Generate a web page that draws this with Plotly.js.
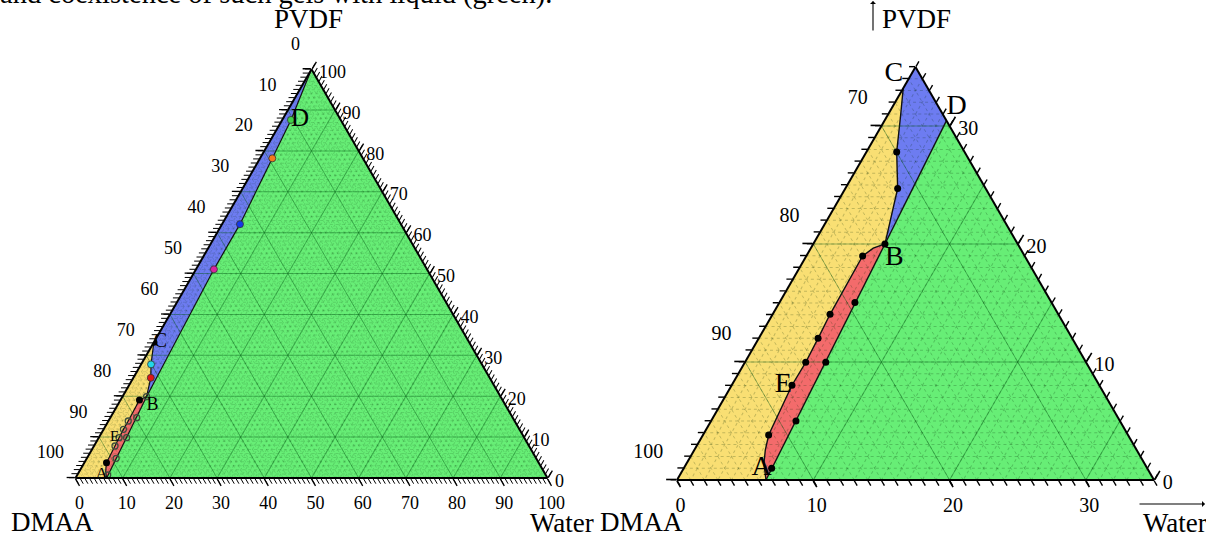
<!DOCTYPE html>
<html>
<head>
<meta charset="utf-8">
<script src="https://cdn.plot.ly/plotly-3.0.1.min.js"></script>
<style>html,body{margin:0;padding:0;background:#fff;}#chart{width:1206px;height:541px;}</style>
</head>
<body>
<div id="chart"></div>
<script>
// ===== DATA: compositions in %, given as PVDF and Water (DMAA = 100 - PVDF - Water) =====
// ---- Left panel: full phase diagram ----
const L_cbPVDF   = [33.2, 27.8, 24.5, 19.9];            // boundary C -> B
const L_cbWater  = [0.0, 2.1, 3.7, 5.1];
const L_bdPVDF   = [19.9, 51.05, 62.1, 78.2, 87.6, 100]; // boundary B -> D -> PVDF corner
const L_bdWater  = [5.1, 3.8, 3.8, 2.6, 1.85, 0];
const L_redPVDF  = [0, 1.4, 2.5, 3.74, 7.83, 9.86, 11.9, 13.94, 19.1, 19.9]; // boundary A -> E -> B
const L_redWater = [6.6, 5.7, 5.2, 4.7, 4.45, 4.3, 4.2, 4.2, 4.0, 5.1];
const L_solidPVDF  = [33.2, 19.1, 3.74];
const L_solidWater = [0.0, 4.0, 4.7];
const L_openPVDF   = [19.9, 14.75, 13.94, 11.9, 9.86, 9.86, 7.83, 4.82, 0.73];
const L_openWater  = [5.1, 5.6, 4.2, 4.2, 4.3, 5.9, 4.45, 6.2, 6.45];
const L_colorPVDF  = [87.6, 78.2, 62.1, 51.05, 27.8, 24.5];
const L_colorWater = [1.85, 2.6, 3.8, 3.8, 2.1, 3.7];
const L_labels     = ['A', 'B', 'C', 'D', 'E'];
const L_labelPVDF  = [0.73, 19.9, 33.2, 87.6, 9.86];
const L_labelWater = [6.45, 5.1, 0.0, 1.85, 4.3];

// ---- Right panel: enlarged corner (DMAA >= 65) ----
const R_cbPVDF   = [33.2, 30.8, 27.8, 24.7, 20.0];
const R_cbWater  = [0.0, 1.0, 2.22, 3.84, 5.26];
const R_bdPVDF   = [20.0, 30.45];
const R_bdWater  = [5.26, 4.55];
const R_redPVDF  = [0, 1.42, 2.54, 3.81, 8.03, 9.97, 12.0, 14.04, 18.98, 19.64, 20.0];
const R_redWater = [6.53, 5.67, 5.21, 4.82, 4.42, 4.46, 4.35, 4.21, 4.13, 4.58, 5.26];
const R_dotPVDF  = [27.8, 24.7, 20.0, 18.98, 15.03, 14.04, 12.0, 9.97, 9.97, 8.03, 5.0, 3.81, 0.99];
const R_dotWater = [2.22, 3.84, 5.26, 4.13, 5.54, 4.21, 4.35, 4.46, 5.93, 4.42, 6.23, 4.82, 6.45];
const R_labels     = ['A', 'B', 'C', 'D', 'E'];
const R_labelPVDF  = [0.99, 20.0, 33.2, 30.45, 8.03];
const R_labelWater = [6.45, 5.26, 0.0, 4.55, 4.42];

// ---- tick labels ----
const L_aTickVals = [0,10,20,30,40,50,60,70,80,90,100];
const L_aTickText = ['100','90','80','70','60','50','40','30','20','10','0'];   // DMAA on left edge
const L_bTickVals = [0,10,20,30,40,50,60,70,80,90,100];
const L_bTickText = ['100','90','80','70','60','50','40','30','20','10','0'];   // Water on bottom
const L_cTickVals = [0,10,20,30,40,50,60,70,80,90,100];
const L_cTickText = ['100','90','80','70','60','50','40','30','20','10','0'];   // PVDF on right edge
const R_aTickVals = [0,10,20,30];
const R_aTickText = ['100','90','80','70'];
const R_bTickVals = [100,90,80,70];
const R_bTickText = ['0','10','20','30'];
const R_cTickVals = [35,25,15,5];
const R_cTickText = ['0','10','20','30'];

const TITLE_TOP = 'and coexistence of such gels with liquid (green).';

// ===== BUILD =====
const W = 1206, H = 541;
const FONT = 'Liberation Serif, Times New Roman, serif';
const rev = arr => arr.slice().reverse();
const comp = (pv, wa) => ({a: pv, b: pv.map((p, i) => 100 - p - wa[i]), c: wa});
const range = (lo, hi) => { const r = []; for (let v = lo; v <= hi; v++) r.push(v); return r; };

function domain(x0, x1, yBot) {
  const side = x1 - x0, h = side * Math.sqrt(3) / 2;
  return {x: [x0 / W, x1 / W], y: [1 - yBot / H, 1 - (yBot - h) / H]};
}

const COL = {green: '#67ee76', yellow: '#f9df73', blue: '#6d7cf1', red: '#f36b6b'};

function panel(p) {
  const traces = [];
  const ids = p.ids;
  const fill = (pv, wa, color) => Object.assign(comp(pv, wa), {
    type: 'scatterternary', mode: 'lines', fill: 'toself', fillcolor: color,
    line: {width: 0, color: color}, subplot: ids[0], hoverinfo: 'skip'
  });
  traces.push(fill([0, ...p.cbP, ...rev(p.redP)], [0, ...p.cbW, ...rev(p.redW)], COL.yellow));
  const topP = p.top, brW = p.br;
  let blueP, blueW;
  if (p.bdP[p.bdP.length - 1] === topP) {
    blueP = [...rev(p.cbP), ...rev(p.bdP)]; blueW = [...rev(p.cbW), ...rev(p.bdW)];
  } else {
    blueP = [...rev(p.cbP), topP, ...rev(p.bdP)]; blueW = [...rev(p.cbW), 0, ...rev(p.bdW)];
  }
  const greenP = [p.redP[0], 0, ...rev(p.bdP)], greenW = [p.redW[0], brW, ...rev(p.bdW)];
  traces.push(fill(blueP, blueW, COL.blue));
  traces.push(fill(greenP, greenW, COL.green));
  traces.push(fill(p.redP, p.redW, COL.red));

  const line = (pv, wa) => Object.assign(comp(pv, wa), {
    type: 'scatterternary', mode: 'lines', line: {color: '#111', width: p.lw},
    subplot: ids[1], hoverinfo: 'skip'
  });
  traces.push(line(p.cbP, p.cbW));
  traces.push(line(p.bdP, p.bdW));
  traces.push(line(p.redP, p.redW));
  traces.push(line([p.redP[0], p.redP[p.redP.length - 1]], [p.redW[0], p.redW[p.redW.length - 1]]));

  p.markers.forEach(m => traces.push(Object.assign(comp(m.P, m.W), {
    type: 'scatterternary', mode: 'markers', subplot: ids[2], hoverinfo: 'skip',
    marker: m.marker
  })));

  traces.push(Object.assign(comp(p.labP, p.labW), {
    type: 'scatterternary', mode: 'text', text: p.labels, subplot: ids[3],
    textposition: p.labPos, hoverinfo: 'skip', cliponaxis: false,
    textfont: {family: FONT, size: p.labSize, color: '#000'}
  }));
  return traces;
}

// label formatting per edge: left-edge labels sit above their tick, right-edge labels level with it
const fmt = {
  a: s => s + '<br>&nbsp;<br>&nbsp;',
  b: s => s,
  c: s => '&nbsp;<br>' + s
};

function axisSet(kind, cfg, key) {
  const none = {showgrid: false, showline: false, ticks: '', showticklabels: false,
                title: {text: ''}};
  if (kind === 0) return Object.assign({}, none, {min: cfg.min[key]});
  if (kind === 1) return Object.assign({}, none, {
    min: cfg.min[key], showgrid: true, gridcolor: cfg.fineColor, gridwidth: 1, griddash: 'dot',
    tickmode: 'array', tickvals: cfg.fine[key], ticks: 'outside', ticklen: cfg.minorLen,
    tickwidth: cfg.minorW, tickcolor: '#000'
  });
  if (kind === 2) return Object.assign({}, none, {
    min: cfg.min[key], showgrid: true, gridcolor: 'rgba(0,90,20,0.4)', gridwidth: 1,
    tickmode: 'array', tickvals: cfg.grid[key]
  });
  return Object.assign({}, none, {
    min: cfg.min[key], tickmode: 'array', tickvals: cfg.tv[key], ticktext: cfg.tt[key].map(fmt[key]),
    ticks: 'outside', ticklen: cfg.majorLen[key], tickwidth: cfg.majorW, tickcolor: '#000',
    showticklabels: true, tickfont: {family: FONT, size: cfg.tickSize, color: '#000'},
    showline: true, linewidth: 2, linecolor: '#000'
  });
}

function ternaries(cfg, ids, dom) {
  const out = {};
  ids.forEach((id, k) => {
    out[id] = {
      sum: 100, domain: dom, bgcolor: k === 0 ? '#fff' : 'rgba(0,0,0,0)',
      aaxis: axisSet(k, cfg, 'a'), baxis: axisSet(k, cfg, 'b'), caxis: axisSet(k, cfg, 'c')
    };
  });
  return out;
}

const leftIds = ['ternary', 'ternary2', 'ternary3', 'ternary4'];
const rightIds = ['ternary5', 'ternary6', 'ternary7', 'ternary8'];

const leftTraces = panel({
  ids: leftIds, top: 100, br: 100, lw: 1.2,
  cbP: L_cbPVDF, cbW: L_cbWater, bdP: L_bdPVDF, bdW: L_bdWater, redP: L_redPVDF, redW: L_redWater,
  markers: [
    {P: L_openPVDF, W: L_openWater, marker: {size: 6, color: 'rgba(0,0,0,0)', line: {color: '#3d4d3d', width: 1.3}}},
    {P: L_solidPVDF, W: L_solidWater, marker: {size: 7, color: '#000', line: {color: '#000', width: 0}}},
    {P: L_colorPVDF, W: L_colorWater, marker: {size: 7,
      color: ['#3fd04a', '#f27a1c', '#1538e8', '#d8239f', '#22d7e8', '#e01515'],
      line: {color: '#333', width: 0.8}}}
  ],
  labels: L_labels, labP: L_labelPVDF, labW: L_labelWater,
  labPos: ['middle left', 'bottom right', 'middle right', 'middle right', 'middle left'],
  labSize: [17, 18, 20, 25, 15]
});

const rightTraces = panel({
  ids: rightIds, top: 35, br: 35, lw: 1.4,
  cbP: R_cbPVDF, cbW: R_cbWater, bdP: R_bdPVDF, bdW: R_bdWater, redP: R_redPVDF, redW: R_redWater,
  markers: [
    {P: R_dotPVDF, W: R_dotWater, marker: {size: 7, color: '#000', line: {width: 0}}}
  ],
  labels: R_labels, labP: R_labelPVDF, labW: R_labelWater,
  labPos: ['middle left', 'bottom right', 'top left', 'top right', 'middle left'],
  labSize: 28
});

const leftCfg = {
  min: {a: 0, b: 0, c: 0},
  fine: {a: range(0, 100), b: range(0, 100), c: range(0, 100)},
  grid: {a: range(1, 9).map(v => v * 10), b: range(1, 9).map(v => v * 10), c: range(1, 9).map(v => v * 10)},
  tv: {a: L_aTickVals, b: L_bTickVals, c: L_cTickVals},
  tt: {a: L_aTickText, b: L_bTickText, c: L_cTickText},
  fineColor: 'rgba(0,40,0,0.14)',
  minorLen: 6, minorW: 1, majorLen: {a: 8, b: 8, c: 8}, majorW: 1.3, tickSize: 18
};
const rightCfg = {
  min: {a: 0, b: 65, c: 0},
  fine: {a: range(0, 35), b: range(65, 100), c: range(0, 35)},
  grid: {a: [10, 20, 30], b: [70, 80, 90], c: [10, 20, 30]},
  tv: {a: R_aTickVals, b: R_bTickVals, c: R_cTickVals},
  tt: {a: R_aTickText, b: R_bTickText, c: R_cTickText},
  fineColor: 'rgba(0,40,0,0.22)',
  minorLen: 6, minorW: 1.4, majorLen: {a: 10, b: 7, c: 10}, majorW: 1.6, tickSize: 20
};

const layout = Object.assign({
  width: W, height: H, margin: {l: 0, r: 0, t: 0, b: 0},
  paper_bgcolor: '#fff', showlegend: false,
  font: {family: FONT, color: '#000'},
  annotations: []
}, ternaries(leftCfg, leftIds, domain(75.5, 547.5, 478)),
   ternaries(rightCfg, rightIds, domain(677, 1154, 480)));

const px = (x, y) => ({xref: 'paper', yref: 'paper', x: x / W, y: 1 - y / H});
const txt = (s, x, y, size) => Object.assign(px(x, y), {
  text: s, showarrow: false, xanchor: 'center', yanchor: 'middle',
  font: {family: FONT, size: size, color: '#000'}
});
layout.annotations.push(
  Object.assign(px(0, 0), {text: TITLE_TOP, showarrow: false, xanchor: 'left', yanchor: 'bottom',
    yshift: -12, xshift: -2, font: {family: FONT, size: 28.5, color: '#000'}}),
  txt('PVDF', 308, 19, 27),
  txt('DMAA', 52, 522, 27),
  txt('Water', 562, 523, 27),
  txt('PVDF', 916, 19, 27),
  txt('DMAA', 641, 522, 27),
  txt('Water', 1175, 523, 27),
  Object.assign(px(873, 1), {text: '', showarrow: true, axref: 'pixel', ayref: 'pixel', ax: 0, ay: 31,
    arrowhead: 1, arrowsize: 0.9, arrowwidth: 1.1, arrowcolor: '#000'}),
  Object.assign(px(1205, 504), {text: '', showarrow: true, axref: 'pixel', ayref: 'pixel', ax: -67, ay: 0,
    arrowhead: 1, arrowsize: 0.9, arrowwidth: 1.1, arrowcolor: '#000'})
);

Plotly.newPlot('chart', [...leftTraces, ...rightTraces], layout, {staticPlot: true, displayModeBar: false});
</script>
</body>
</html>
